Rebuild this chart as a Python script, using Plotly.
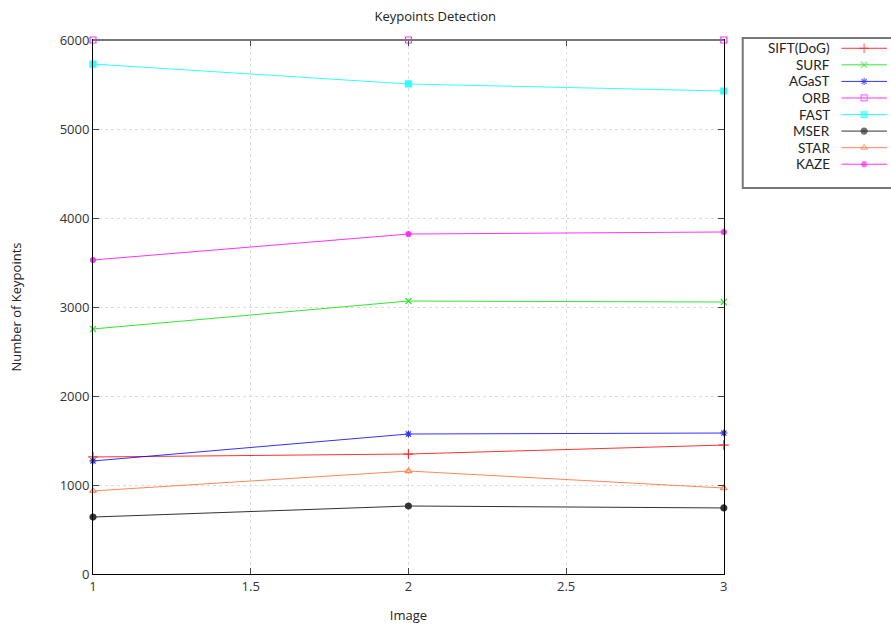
import plotly.graph_objects as go

images = [1, 2, 3]
series_names = ["SIFT(DoG)", "SURF", "AGaST", "ORB", "FAST", "MSER", "STAR", "KAZE"]
sift = [1315, 1348, 1449]
surf = [2753, 3067, 3056]
agast = [1270, 1573, 1584]
orb = [6000, 6000, 6000]
fast = [5730, 5506, 5427]
mser = [640, 764, 742]
star = [933, 1157, 966]
kaze = [3528, 3820, 3843]
values = [sift, surf, agast, orb, fast, mser, star, kaze]

colors = ["#ff0000", "#00e000", "#0000ff", "#ff00ff", "#00ffff", "#000000", "#ff6a30", "#ff00ff"]
symbols = ["cross-thin", "x-thin", "asterisk", "square-open", "square", "circle", "triangle-up-open", "circle"]
sizes = [7, 6, 6, 6, 6, 6, 6, 5]

W, H = 891, 627
L, R, T, B = 93, 0, 40, 53
plot_w = W - L - R  # 798
x_dom_end = (727 - L) / plot_w

fig = go.Figure()
for name, ys, c, s, sz in zip(series_names, values, colors, symbols, sizes):
    fig.add_trace(go.Scatter(
        x=images, y=ys, name=name, mode="lines+markers",
        line=dict(color=c, width=1), opacity=0.8,
        marker=dict(symbol=s, size=sz, color=c, line=dict(color=c, width=1.2)),
        cliponaxis=False, showlegend=False, xaxis="x", yaxis="y"))

# custom legend (text left, sample right)
for i, (name, c, s, sz) in enumerate(zip(series_names, colors, symbols, sizes)):
    fig.add_trace(go.Scatter(
        x=[0, 1, 2], y=[i, i, i], mode="lines+markers",
        line=dict(color=c, width=1), opacity=0.8,
        marker=dict(symbol=s, size=[0, sz, 0], color=c, line=dict(color=c, width=1.2)),
        cliponaxis=False, showlegend=False, hoverinfo="skip", xaxis="x2", yaxis="y2"))
    fig.add_annotation(text=name, xref="paper", yref="y2", x=(836 - L) / plot_w, y=i,
                       xanchor="right", yanchor="middle", showarrow=False,
                       font=dict(family="Lato", size=13.5, color="#222"))

fig.add_shape(type="rect", xref="paper", yref="paper",
              x0=(746 - L) / plot_w, x1=1.05, y0=(574 - 188) / 534, y1=(574 - 38) / 534,
              line=dict(color="#777", width=2), fillcolor="rgba(0,0,0,0)")
# top frame drawn gray as in the reference
fig.add_shape(type="line", xref="paper", yref="paper", x0=0, x1=x_dom_end, y0=1, y1=1,
              line=dict(color="#777", width=2))

axis_common = dict(showline=True, linecolor="#000", linewidth=1, mirror="ticks",
                   ticks="inside", ticklen=6, tickcolor="#444", layer="above traces",
                   showgrid=True, gridcolor="#dddddd", griddash="dot", gridwidth=1,
                   zeroline=False, tickfont=dict(family="Open Sans", size=13, color="#333"))

fig.update_layout(
    width=W, height=H, margin=dict(l=L, r=R, t=T, b=B),
    paper_bgcolor="white", plot_bgcolor="white",
    title=dict(text="Keypoints Detection", x=(437 - L) / plot_w, xref="paper", xanchor="center",
               y=1 - 16 / H, yanchor="middle", font=dict(family="Open Sans", size=13, color="#222")),
    xaxis=dict(domain=[0, x_dom_end], range=[1, 3], tickvals=[1, 1.5, 2, 2.5, 3],
               ticktext=["1", "1.5", "2", "2.5", "3"],
               title=dict(text="Image", font=dict(family="Open Sans", size=13, color="#222"), standoff=17),
               **axis_common),
    yaxis=dict(range=[0, 6000], tickvals=[0, 1000, 2000, 3000, 4000, 5000, 6000],
               title=dict(text="Number of Keypoints", font=dict(family="Open Sans", size=13, color="#222"), standoff=35),
               **axis_common),
    xaxis2=dict(domain=[(845 - L) / plot_w, 1.0], range=[0, 2], visible=False, anchor="y2"),
    yaxis2=dict(domain=[(574 - 172.5) / 534, 1.0], range=[7.5, -0.5], visible=False, anchor="x2"),
)

fig.write_html("out.html")
